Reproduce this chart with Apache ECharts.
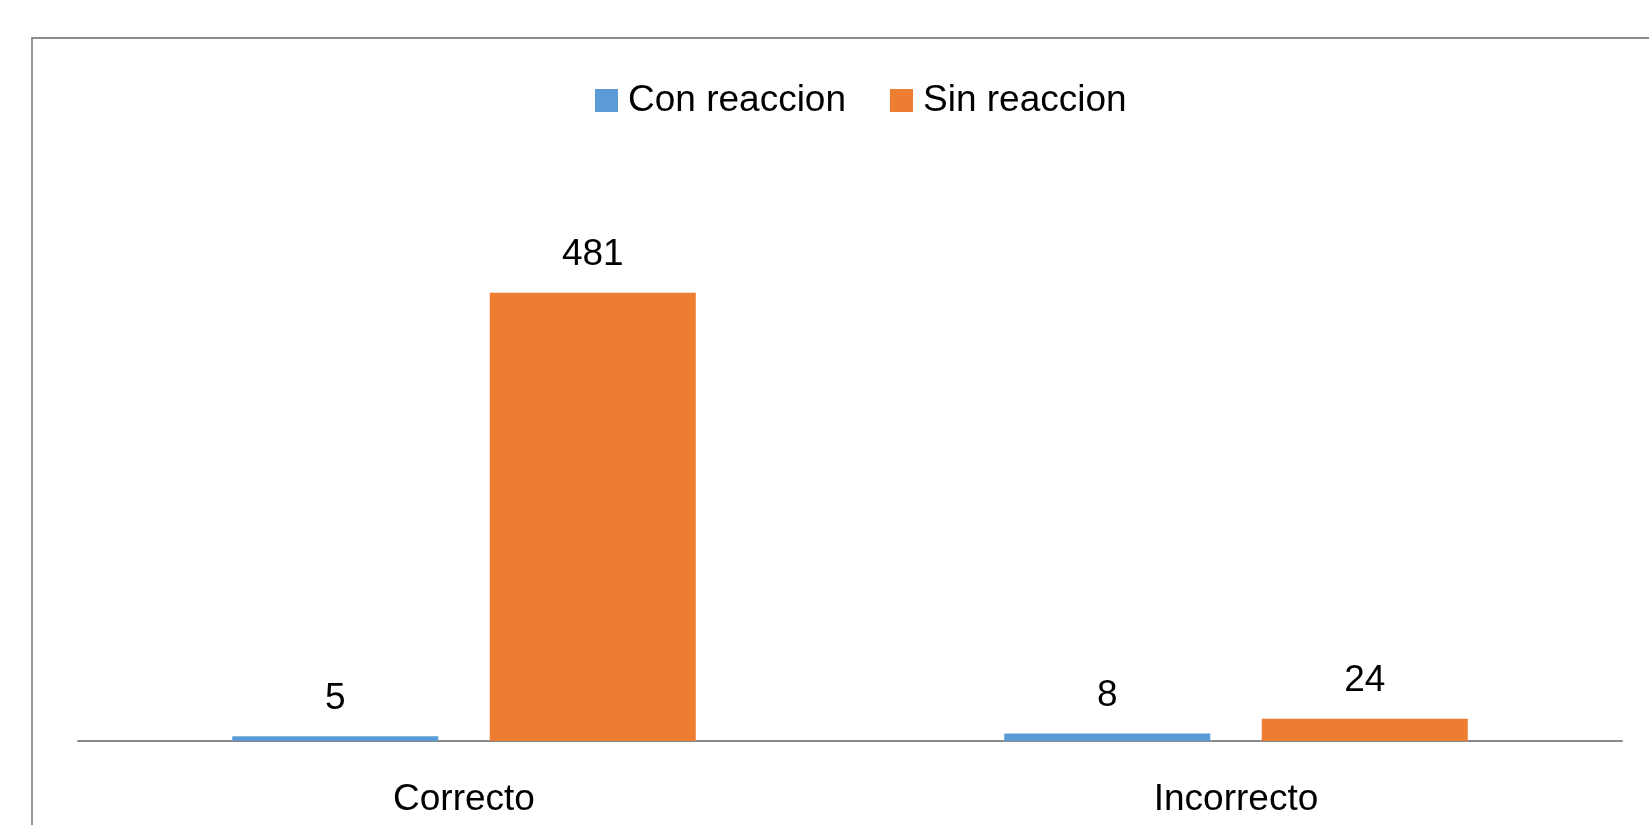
<!DOCTYPE html>
<html><head><meta charset="utf-8">
<script src="https://cdn.jsdelivr.net/npm/echarts@6/dist/echarts.min.js"></script>
<style>html,body{margin:0;padding:0;background:#fff}#c{width:1649px;height:825px}</style>
</head><body><div id="c"></div>
<script>
const categories = ['Correcto', 'Incorrecto'];
const seriesNames = ['Con reaccion', 'Sin reaccion'];
const conReaccion = [5, 8];
const sinReaccion = [481, 24];

const chart = echarts.init(document.getElementById('c'));
const font = 'Liberation Sans, Arial, sans-serif';
const label = { show: true, position: 'top', distance: 19, fontSize: 37, color: '#000', fontFamily: font };
chart.setOption({
  animation: false,
  graphic: [{ type: 'rect', shape: { x: 32, y: 38, width: 1640, height: 800 }, style: { fill: 'none', stroke: '#8c8c8c', lineWidth: 1.8 } }],
  legend: {
    top: 77, left: 590, itemWidth: 23, itemHeight: 23, itemGap: 44,
    icon: 'rect',
    textStyle: { fontSize: 37, color: '#000', fontFamily: font, padding: [0, 0, 0, 5] },
    data: seriesNames
  },
  grid: { left: 78, right: 27, top: 275, bottom: 84 },
  xAxis: {
    type: 'category', data: categories,
    axisLine: { lineStyle: { color: '#898989', width: 2 } },
    axisTick: { show: false },
    axisLabel: { fontSize: 37, color: '#000', margin: 40, fontFamily: font }
  },
  yAxis: { type: 'value', min: 0, max: 500, show: false, splitLine: { show: false } },
  series: [
    { name: seriesNames[0], type: 'bar', data: conReaccion, barWidth: 206, barGap: '25%', itemStyle: { color: '#5B9BD5' }, label },
    { name: seriesNames[1], type: 'bar', data: sinReaccion, barWidth: 206, barGap: '25%', itemStyle: { color: '#ED7D31' }, label }
  ]
});
</script></body></html>
